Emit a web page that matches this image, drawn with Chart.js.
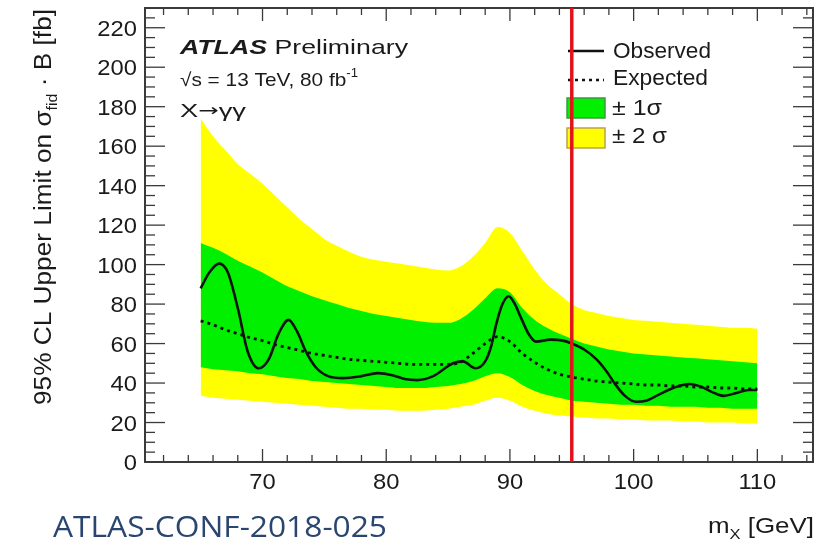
<!DOCTYPE html>
<html>
<head>
<meta charset="utf-8">
<title>X to gamma gamma fiducial limit</title>
<script src="https://cdn.jsdelivr.net/npm/chart.js@4.4.1/dist/chart.umd.min.js"></script>
<style>
  html, body { margin: 0; padding: 0; background: #fff; }
  #limitChart { display: block; }
</style>
</head>
<body>
<canvas id="limitChart" width="835" height="545"></canvas>
<script>
// ---------- data ----------
const massGrid = [65, 66, 67, 68, 69, 70, 71, 72, 73, 74, 75, 76, 77, 78, 79, 80, 81, 82, 83, 84, 85, 86, 87,
  88, 89, 90, 91, 92, 93, 94, 95, 96, 97, 98, 99, 100, 101, 102, 103, 104, 105, 106, 107, 108, 109, 110];

const twoSigmaUp = [174, 165, 158, 151, 146, 141, 135, 129, 123, 118, 113, 109.5, 106.5, 104, 102.5, 101.5, 100.5,
  99.5, 98.5, 97.5, 97, 99, 104, 111, 119, 116, 107, 97.5, 90, 85, 80, 77, 75.5, 74, 73, 72, 71.5, 71, 70.5, 70,
  69.5, 69, 68.5, 68, 68, 67.5];

const oneSigmaUp = [111, 108.5, 105.5, 102, 99, 96, 92.5, 89, 86.5, 84, 82, 80, 78, 76.5, 75, 74, 73, 72, 71, 70.5,
  70.5, 72.5, 77, 83, 88, 86, 78, 72, 68, 65, 62.5, 60, 58.5, 57, 56, 55, 54.5, 54, 53.5, 53, 52.5, 52, 51.5, 51,
  50.5, 50];

const oneSigmaDown = [48, 47, 46.5, 46, 45, 44.5, 43.5, 42.5, 42, 41, 40.5, 40, 39.5, 39, 38.5, 38, 37.5, 37.5, 37.5,
  38, 38.5, 39.5, 41, 43.5, 45, 43, 39, 36, 34, 32.5, 31, 30.5, 30, 29.5, 29, 29, 28.5, 28.5, 28, 28, 28, 27.5,
  27.5, 27, 27, 27];

const twoSigmaDown = [33.5, 32.5, 32, 31.5, 31, 30.5, 30, 29.5, 29, 28.5, 28, 27.5, 27, 27, 26.5, 26.5, 26, 26, 26,
  26.5, 27, 28, 29, 31, 32.5, 31, 28, 26, 24.5, 23.5, 23, 22.5, 22, 22, 21.5, 21.5, 21, 21, 21, 20.5, 20.5, 20,
  20, 20, 19.5, 19.5];

const expectedLimit = [71.5, 69.5, 67, 65, 63, 61.5, 59.5, 58, 56.5, 55, 54, 53, 52, 51.5, 51, 50.5, 50, 49.5, 49.5,
  49.5, 49.5, 50.5, 55, 60, 63.5, 61, 55, 50.5, 47, 44.5, 43, 42, 41, 40.5, 40, 39.5, 39, 39, 38.5, 38.5, 38, 38,
  37.5, 37.5, 37, 37];

const obsMass = [65, 65.7, 66.5, 67.2, 68, 68.8, 69.7, 70.5, 71.3, 72.1, 72.8, 73.5, 74.3, 75.3, 76.5, 78, 79.3,
  80.5, 81.5, 82.5, 83.8, 85.4, 86.2, 87.2, 88, 88.5, 88.9, 89.4, 89.9, 90.4, 90.9, 91.5, 92.1, 93.3, 94.3, 95,
  96, 97, 97.8, 98.5, 99.3, 100.2, 101, 102, 103.2, 104.5, 105.5, 106.5, 107.3, 108.3, 109.3, 110];
const obsLimit = [88, 96, 100.5, 96, 78, 56, 47.5, 52, 65, 72, 66, 56, 48, 43.5, 42.5, 43.5, 45, 44, 42, 41.5,
  43.5, 50, 51, 47.5, 51, 59, 70, 80, 84, 80, 73, 65, 61, 62, 61.5, 60, 57, 52, 46, 39.5, 33.5, 30.5, 31, 34,
  37.5, 39.5, 38, 35, 33.5, 35, 36.5, 36.5];

const xTicks = [70, 80, 90, 100, 110];
const yTicks = [0, 20, 40, 60, 80, 100, 120, 140, 160, 180, 200, 220];
const markerMass = 95;

// ---------- styling ----------
const ROOT_FONT = '"Liberation Sans", Arial, Helvetica, sans-serif';
const ARROW_FONT = '"DejaVu Sans", sans-serif';
const YELLOW = '#ffff00';
const GREEN = '#00f000';
const RED = '#e0141a';
const INK = '#1a1a1a';

const toPoints = (xs, ys) => xs.map((x, i) => ({ x, y: ys[i] }));

// draw a run of text pieces, stretched along the baseline to a target width
const drawRuns = (ctx, runs, x, y, targetWidth) => {
  let total = 0;
  runs.forEach(r => { ctx.font = r.font; r.w = ctx.measureText(r.text).width; total += r.w; });
  const sx = targetWidth ? targetWidth / total : 1;
  ctx.save();
  ctx.translate(x, y);
  ctx.scale(sx, 1);
  ctx.textAlign = 'left';
  ctx.textBaseline = 'alphabetic';
  let cx = 0;
  runs.forEach(r => { ctx.font = r.font; ctx.fillText(r.text, cx, r.dy || 0); cx += r.w; });
  ctx.restore();
};

const seg = (ctx, x1, y1, x2, y2) => {
  ctx.beginPath(); ctx.moveTo(x1, y1); ctx.lineTo(x2, y2); ctx.stroke();
};

const rootDecor = {
  id: 'rootDecor',
  afterDraw(chart) {
    const ctx = chart.ctx;
    const { left, right, top, bottom } = chart.chartArea;
    const xs = chart.scales.x, ys = chart.scales.y;
    ctx.save();

    // frame + inward ticks on all four sides
    ctx.strokeStyle = '#3a3a3a';
    ctx.lineWidth = 1.3;
    for (let m = 62; m <= 114; m += 2) {
      const px = xs.getPixelForValue(m);
      const len = m % 10 === 0 ? 13 : 7;
      seg(ctx, px, bottom, px, bottom - len);
      seg(ctx, px, top, px, top + len);
    }
    for (let v = 0; v <= 230; v += 5) {
      const py = ys.getPixelForValue(v);
      const len = v % 20 === 0 ? 20 : 10;
      seg(ctx, left, py, left + len, py);
      seg(ctx, right, py, right - len, py);
    }
    ctx.lineWidth = 2;
    ctx.strokeRect(left, top, right - left, bottom - top);

    // tick labels
    ctx.fillStyle = INK;
    const tickFont = `22px ${ROOT_FONT}`;
    yTicks.forEach(v => {
      const t = String(v);
      ctx.font = tickFont;
      const w = ctx.measureText(t).width * 1.08;
      drawRuns(ctx, [{ text: t, font: tickFont }], 137 - w, ys.getPixelForValue(v) + 8, w);
    });
    xTicks.forEach(m => {
      const t = String(m);
      ctx.font = tickFont;
      const w = ctx.measureText(t).width * 1.08;
      drawRuns(ctx, [{ text: t, font: tickFont }], xs.getPixelForValue(m) - w / 2, 489, w);
    });

    // axis titles
    const titleFont = `23px ${ROOT_FONT}`;
    const subFont = `14px ${ROOT_FONT}`;
    ctx.save();
    ctx.translate(51, 405);
    ctx.rotate(-Math.PI / 2);
    drawRuns(ctx, [
      { text: '95% CL Upper Limit on \u03c3', font: titleFont },
      { text: 'fid', font: subFont, dy: 6 },
      { text: ' \u00b7 B [fb]', font: titleFont }
    ], 0, 0, 396);
    ctx.restore();
    drawRuns(ctx, [
      { text: 'm', font: `22px ${ROOT_FONT}` },
      { text: 'X', font: subFont, dy: 6 },
      { text: ' [GeV]', font: `22px ${ROOT_FONT}` }
    ], 708, 533, 106);

    // ATLAS labels
    drawRuns(ctx, [
      { text: 'ATLAS', font: `italic bold 21px ${ROOT_FONT}` },
      { text: ' Preliminary', font: `21px ${ROOT_FONT}` }
    ], 180, 54, 228);
    drawRuns(ctx, [
      { text: '\u221as = 13 TeV, 80 fb', font: `19px ${ROOT_FONT}` },
      { text: '-1', font: `12px ${ROOT_FONT}`, dy: -9 }
    ], 180, 86, 178);
    drawRuns(ctx, [
      { text: 'X', font: `19px ${ROOT_FONT}` },
      { text: '\u2192', font: `17px ${ARROW_FONT}`, dy: -1 },
      { text: '\u03b3\u03b3', font: `19px ${ROOT_FONT}` }
    ], 180, 117, 66);

    // legend
    ctx.strokeStyle = '#111';
    ctx.lineWidth = 2.6;
    seg(ctx, 568, 51, 604, 51);
    ctx.setLineDash([3, 4]);
    seg(ctx, 568, 80, 604, 80);
    ctx.setLineDash([]);
    ctx.lineWidth = 1.5;
    ctx.fillStyle = GREEN; ctx.strokeStyle = '#3c9a3c';
    ctx.fillRect(567, 98, 38, 20); ctx.strokeRect(567, 98, 38, 20);
    ctx.fillStyle = YELLOW; ctx.strokeStyle = '#b9a44a';
    ctx.fillRect(567, 128, 38, 20); ctx.strokeRect(567, 128, 38, 20);
    ctx.fillStyle = INK;
    const legFont = `22px ${ROOT_FONT}`;
    drawRuns(ctx, [{ text: 'Observed', font: legFont }], 613, 58, 98);
    drawRuns(ctx, [{ text: 'Expected', font: legFont }], 613, 85, 95);
    drawRuns(ctx, [{ text: '\u00b1 1\u03c3', font: legFont }], 612, 115, 50);
    drawRuns(ctx, [{ text: '\u00b1 2 \u03c3', font: legFont }], 612, 143, 55);

    // vertical marker at m_X = 95 GeV
    const mx = xs.getPixelForValue(markerMass);
    ctx.strokeStyle = RED;
    ctx.lineWidth = 3.5;
    seg(ctx, mx, top, mx, bottom);

    // conference note reference
    ctx.fillStyle = '#2a4670';
    drawRuns(ctx, [{ text: 'ATLAS-CONF-2018-025', font: `29px "Open Sans", Lato, sans-serif` }], 53, 537, 334);

    ctx.restore();
  }
};

const bandSet = (label, values, color, fill) => ({
  label,
  data: toPoints(massGrid, values),
  borderColor: 'transparent',
  borderWidth: 0,
  backgroundColor: color,
  pointRadius: 0,
  fill,
  cubicInterpolationMode: 'monotone'
});

new Chart(document.getElementById('limitChart'), {
  type: 'line',
  data: {
    datasets: [
      {
        label: 'Observed',
        data: toPoints(obsMass, obsLimit),
        borderColor: '#111',
        borderWidth: 2.6,
        pointRadius: 0,
        fill: false,
        cubicInterpolationMode: 'monotone'
      },
      {
        label: 'Expected',
        data: toPoints(massGrid, expectedLimit),
        borderColor: '#111',
        borderWidth: 2.8,
        borderDash: [3, 4],
        pointRadius: 0,
        fill: false,
        cubicInterpolationMode: 'monotone'
      },
      bandSet('+1 sigma', oneSigmaUp, GREEN, '+1'),
      bandSet('-1 sigma', oneSigmaDown, GREEN, false),
      bandSet('+2 sigma', twoSigmaUp, YELLOW, '+1'),
      bandSet('-2 sigma', twoSigmaDown, YELLOW, false)
    ]
  },
  options: {
    responsive: false,
    devicePixelRatio: 1,
    animation: false,
    layout: { padding: { left: 0, right: 22, top: 8, bottom: 0 } },
    plugins: {
      legend: { display: false },
      tooltip: { enabled: false },
      filler: { drawTime: 'beforeDatasetDraw' }
    },
    scales: {
      x: {
        type: 'linear',
        min: 60.5,
        max: 114.5,
        grid: { display: false },
        border: { display: false },
        ticks: { display: false },
        afterFit: (s) => { s.height = 83; }
      },
      y: {
        min: 0,
        max: 230,
        grid: { display: false },
        border: { display: false },
        ticks: { display: false },
        afterFit: (s) => { s.width = 145; }
      }
    }
  },
  plugins: [rootDecor]
});
</script>
</body>
</html>
